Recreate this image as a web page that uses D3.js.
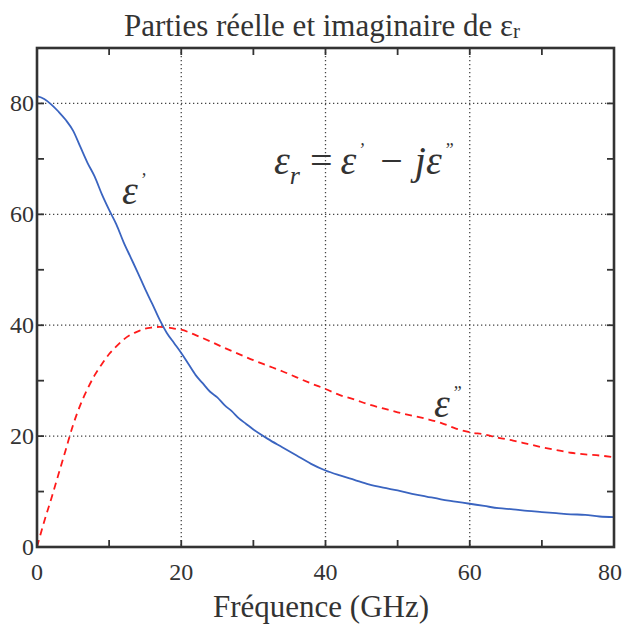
<!DOCTYPE html>
<html><head><meta charset="utf-8">
<script src="https://cdn.jsdelivr.net/npm/d3@7"></script>
<style>body{margin:0;background:#fff}svg{display:block}</style>
</head><body><svg id="c" width="624" height="632" font-family="'Liberation Serif', Tinos, 'Times New Roman', 'DejaVu Serif', serif" fill="#333"></svg>
<script>
const freq = [0,1,2,3,4,5,6,7,8,9,10,11,12,13,14,15,16,17,18,19,20,21,22,23,24,25,26,27,28,29,30,32,34,36,38,40,42,44,46,48,50,52,54,56,58,60,62,64,66,68,70,72,74,76,78,80];
const epsReal = [81.3,80.8,79.8,78.5,77.0,75.1,72.2,69.3,66.8,63.6,60.8,58.2,55.0,52.2,49.4,46.5,43.8,41.0,38.6,36.8,35.0,33.0,31.0,29.5,28.0,27.0,25.6,24.5,23.2,22.2,21.2,19.5,18.0,16.5,15.0,13.8,12.9,12.1,11.3,10.7,10.2,9.6,9.1,8.6,8.2,7.8,7.4,7.0,6.8,6.5,6.3,6.1,5.9,5.8,5.5,5.4];
const freq2 = [0,1,2,3,4,5,6,7,8,9,10,11,12,13,14,15,16,17,18,19,20,22,24,26,28,30,32,34,36,38,40,42,44,46,48,50,52,54,56,58,60,62,64,66,68,70,72,74,76,78,80];
const epsImag = [0,4.6,8.8,13.2,17.6,22.0,25.6,28.5,31.0,33.0,34.8,36.2,37.4,38.3,38.9,39.4,39.6,39.7,39.6,39.4,39.2,38.2,37.1,35.9,34.8,33.7,32.7,31.7,30.6,29.5,28.5,27.4,26.6,25.7,25.0,24.3,23.7,23.1,22.4,21.4,20.7,20.3,19.7,19.2,18.6,18.0,17.5,17.0,16.7,16.5,16.2];
const xTicks = [0,20,40,60,80];
const yTicks = [0,20,40,60,80];
const minorX = d3.range(0,81,10);
const minorY = d3.range(0,91,10);

const svg = d3.select('#c');
const L=37,R=614,T=48,B=547;
const x = d3.scaleLinear().domain([0,80]).range([L,R]);
const y = d3.scaleLinear().domain([0,90]).range([B,T]);

// grid
const g = svg.append('g').attr('stroke','#444').attr('stroke-width',1.3).attr('stroke-dasharray','1.3,2.7');
g.selectAll('.vx').data(xTicks.slice(1,-1)).enter().append('line')
 .attr('x1',d=>x(d)).attr('x2',d=>x(d)).attr('y1',T).attr('y2',B);
g.selectAll('.hy').data(yTicks.slice(1)).enter().append('line')
 .attr('y1',d=>y(d)).attr('y2',d=>y(d)).attr('x1',L).attr('x2',R);

// minor ticks
const tk = svg.append('g').attr('stroke','#333').attr('stroke-width',1.8);
minorX.forEach(v=>{
  tk.append('line').attr('x1',x(v)).attr('x2',x(v)).attr('y1',B).attr('y2',B-7);
  tk.append('line').attr('x1',x(v)).attr('x2',x(v)).attr('y1',T).attr('y2',T+7);
});
minorY.forEach(v=>{
  tk.append('line').attr('y1',y(v)).attr('y2',y(v)).attr('x1',L).attr('x2',L+7);
  tk.append('line').attr('y1',y(v)).attr('y2',y(v)).attr('x1',R).attr('x2',R-7);
});

// curves
const line = d3.line().x(d=>x(d[0])).y(d=>y(d[1])).curve(d3.curveMonotoneX);
svg.append('path').datum(freq2.map((f,i)=>[f,epsImag[i]])).attr('d',line)
 .attr('fill','none').attr('stroke','#ff1a1a').attr('stroke-width',1.8).attr('stroke-dasharray','7,5');
svg.append('path').datum(freq.map((f,i)=>[f,epsReal[i]])).attr('d',line)
 .attr('fill','none').attr('stroke','#3a64c0').attr('stroke-width',1.8);

// frame
svg.append('rect').attr('x',L).attr('y',T).attr('width',R-L).attr('height',B-T)
 .attr('fill','none').attr('stroke','#333').attr('stroke-width',2.6);

// tick labels
svg.selectAll('.xl').data(xTicks).enter().append('text')
 .attr('x',d=>Math.min(x(d),610)).attr('y',B+33).attr('text-anchor','middle').attr('font-size',24).text(d=>d);
svg.selectAll('.yl').data(yTicks).enter().append('text')
 .attr('x',L-3).attr('y',d=>y(d)+8).attr('text-anchor','end').attr('font-size',24).text(d=>d);

// title
const t = svg.append('text').attr('x',322).attr('y',36).attr('text-anchor','middle').attr('font-size',31);
t.append('tspan').text('Parties réelle et imaginaire de ε');
t.append('tspan').attr('font-size',21).attr('dy',2).text('r');

// x label
svg.append('text').attr('x',321).attr('y',617).attr('text-anchor','middle').attr('font-size',31).text('Fréquence (GHz)');

// annotations
const a1 = svg.append('text').attr('x',122).attr('y',204).attr('font-size',40).attr('font-style','italic');
a1.append('tspan').text('ε');
a1.append('tspan').attr('font-size',18).attr('dy',-18).attr('dx',2).text('\u2019');

const a2 = svg.append('text').attr('x',434).attr('y',417).attr('font-size',40).attr('font-style','italic');
a2.append('tspan').text('ε');
a2.append('tspan').attr('font-size',18).attr('dy',-18).attr('dx',2).text('\u201D');

const f = svg.append('text').attr('x',274).attr('y',174).attr('font-size',40).attr('font-style','italic');
f.append('tspan').text('ε');
f.append('tspan').attr('font-size',26).attr('dy',10).text('r');
f.append('tspan').attr('dy',-10).attr('dx',10).attr('font-style','normal').text('=');
f.append('tspan').attr('dx',8).text('ε');
f.append('tspan').attr('font-size',18).attr('dy',-18).attr('dx',2).text('\u2019');
f.append('tspan').attr('dy',18).attr('dx',16).attr('font-style','normal').text('\u2212');
f.append('tspan').attr('dx',12).text('jε');
f.append('tspan').attr('font-size',18).attr('dy',-18).attr('dx',2).text('\u201D');
</script></body></html>
